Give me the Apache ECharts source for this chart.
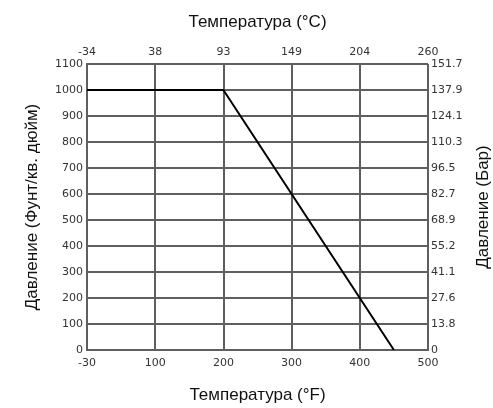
<!DOCTYPE html>
<html lang="ru">
<head>
    <meta charset="UTF-8">
    <title>Давление / Температура</title>
    <script src="https://cdn.jsdelivr.net/npm/echarts@6/dist/echarts.min.js"></script>
    <style>
        html, body { margin: 0; padding: 0; background: #fff; }
    </style>
</head>
<body>
<div id="chart" style="width: 493px;height: 408px;"></div>
<script>
    // шкала X нарисована равномерно: позиция 0..500, подписи свои
    var fTicks = ['-30', '100', '200', '300', '400', '500'];
    var cTicks = ['-34', '38', '93', '149', '204', '260'];
    var psiTicks = ['0', '100', '200', '300', '400', '500', '600', '700', '800', '900', '1000', '1100'];
    var barTicks = ['0', '13.8', '27.6', '41.1', '55.2', '68.9', '82.7', '96.5', '110.3', '124.1', '137.9', '151.7'];

    // линия давления (позиция по оси F, psi)
    var linePos = [0, 200, 450];
    var linePsi = [1000, 1000, 0];

    var gridColor = '#5f5f5f';
    var tickFont = {color: '#333', fontFamily: 'DejaVu Sans', fontSize: 11};
    var nameFont = {color: '#111', fontFamily: 'Liberation Sans', fontSize: 17, letterSpacing: 1};

    var chart = echarts.init(document.getElementById('chart'));
    var option = {
        animation: false,
        grid: {left: 87, right: 65, top: 64, bottom: 58, outerBoundsMode: 'none', containLabel: false},
        xAxis: [
            {
                type: 'value', position: 'bottom', min: 0, max: 500, interval: 100,
                name: 'Температура (°F)', nameLocation: 'middle', nameGap: 37,
                nameTextStyle: nameFont,
                axisLine: {lineStyle: {color: gridColor, width: 2}},
                axisTick: {show: false},
                axisLabel: Object.assign({margin: 8, formatter: function (v) { return fTicks[v / 100]; }}, tickFont),
                splitLine: {lineStyle: {color: gridColor, width: 2}}
            },
            {
                type: 'value', position: 'top', min: 0, max: 500, interval: 100,
                name: 'Температура (°C)', nameLocation: 'middle', nameGap: 33,
                nameTextStyle: nameFont,
                axisLine: {lineStyle: {color: gridColor, width: 2}},
                axisTick: {show: false},
                axisLabel: Object.assign({margin: 6, formatter: function (v) { return cTicks[v / 100]; }}, tickFont),
                splitLine: {show: false}
            }
        ],
        yAxis: [
            {
                type: 'value', position: 'left', min: 0, max: 1100, interval: 100,
                name: 'Давление (Фунт/кв. дюйм)', nameLocation: 'middle', nameGap: 46,
                nameTextStyle: nameFont,
                axisLine: {show: true, lineStyle: {color: gridColor, width: 2}},
                axisTick: {show: false},
                axisLabel: Object.assign({margin: 4, formatter: function (v) { return psiTicks[v / 100]; }}, tickFont),
                splitLine: {lineStyle: {color: gridColor, width: 2}}
            },
            {
                type: 'value', position: 'right', min: 0, max: 1100, interval: 100,
                name: 'Давление (Бар)', nameLocation: 'middle', nameGap: 47,
                nameTextStyle: nameFont,
                axisLine: {show: true, lineStyle: {color: gridColor, width: 2}},
                axisTick: {show: false},
                axisLabel: Object.assign({margin: 3, formatter: function (v) { return barTicks[v / 100]; }}, tickFont),
                splitLine: {show: false}
            }
        ],
        series: [
            {
                type: 'line',
                xAxisIndex: 0, yAxisIndex: 0,
                data: linePos.map(function (p, i) { return [p, linePsi[i]]; }),
                symbol: 'none',
                lineStyle: {color: '#000', width: 2}
            }
        ]
    };
    chart.setOption(option);
</script>
</body>
</html>
